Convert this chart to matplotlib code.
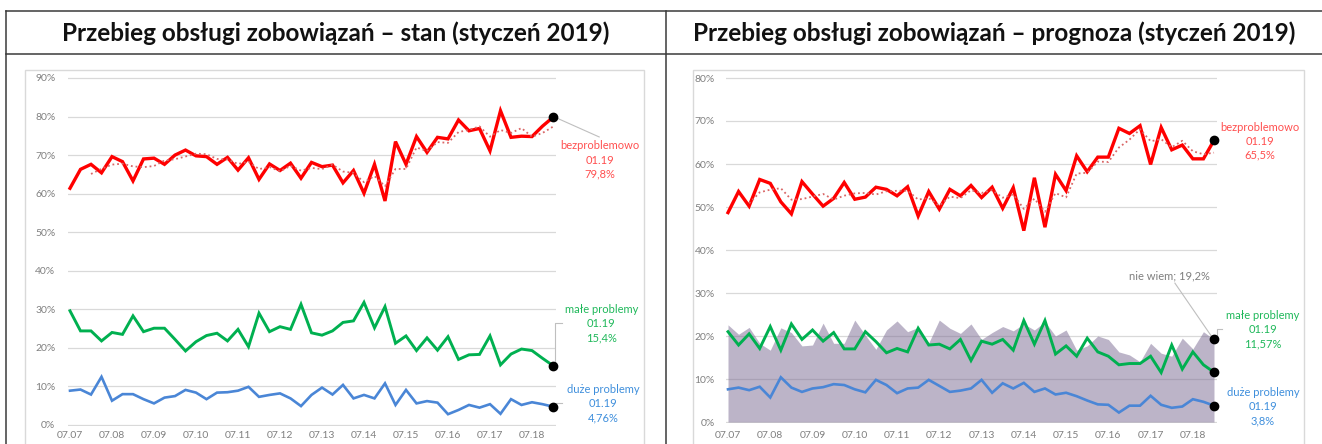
import numpy as np
import pandas as pd
import matplotlib
matplotlib.use("Agg")
import matplotlib.pyplot as plt
from matplotlib.lines import Line2D
from matplotlib.patches import Rectangle

plt.rcParams['font.family'] = ['Lato', 'DejaVu Sans']

# quarterly observations 07.2007 - 01.2019
quarters = pd.date_range('2007-07-01', '2019-01-01', freq='QS-JAN')

# stan (status)
stan_bez = [61.4, 66.3, 67.6, 65.4, 69.6, 68.3, 63.3, 69.0, 69.2, 67.6,
            70.0, 71.3, 69.8, 69.6, 67.6, 69.4, 66.1, 69.3, 63.7, 67.7,
            66.0, 67.9, 64.0, 68.1, 67.0, 67.4, 62.8,
            66.0, 60.1, 67.6, 58.1, 73.5, 67.6, 74.8, 70.7, 74.6, 74.2,
            79.1, 76.3, 76.9, 71.1, 81.5, 74.6, 74.9, 74.8, 77.5, 79.8]
stan_male = [29.6, 24.4, 24.4, 21.8, 24.0, 23.5, 28.3, 24.2, 25.1, 25.1,
             22.2, 19.2, 21.6, 23.2, 23.8, 21.8, 24.8, 20.3, 29.0, 24.2,
             25.5, 24.8, 31.3, 23.9, 23.3, 24.4, 26.6,
             27.0, 31.8, 25.2, 30.7, 21.2, 23.1, 19.3, 22.6, 19.4, 22.9,
             17.0, 18.2, 18.3, 23.1, 15.6, 18.4, 19.7, 19.3, 17.3, 15.4]
stan_duze = [8.9, 9.2, 7.9, 12.5, 6.3, 8.0, 8.0, 6.7, 5.6, 7.1,
             7.5, 9.1, 8.4, 6.7, 8.4, 8.5, 8.9, 9.9, 7.3, 7.8,
             8.2, 6.9, 4.9, 7.8, 9.7, 7.9, 10.4,
             6.9, 7.8, 6.9, 10.8, 5.2, 9.1, 5.6, 6.2, 5.8, 2.8,
             3.9, 5.2, 4.5, 5.4, 2.9, 6.7, 5.2, 5.9, 5.4, 4.76]

# prognoza (forecast)
prog_bez = [48.7, 53.6, 50.2, 56.4, 55.5, 51.2, 48.4, 55.9, 53.0, 50.2,
            52.0, 55.7, 51.8, 52.3, 54.6, 54.1, 52.6, 54.7, 47.9, 53.6,
            49.5, 54.1, 52.6, 55.0, 52.2, 54.6, 49.7,
            54.5, 44.5, 56.8, 45.3, 57.6, 53.8, 61.9, 58.2, 61.6, 61.6,
            68.3, 67.1, 68.9, 59.9, 68.5, 63.3, 64.4, 61.2, 61.2, 65.5]
prog_male = [21.0, 17.9, 20.5, 17.1, 22.2, 16.7, 22.8, 19.2, 21.4, 18.8,
             20.8, 17.0, 17.0, 21.0, 18.7, 16.1, 17.1, 16.3, 21.8, 17.9,
             18.1, 17.0, 19.2, 14.3, 18.8, 18.1, 19.2,
             16.7, 23.6, 18.1, 23.6, 15.8, 17.7, 15.3, 19.5, 16.3, 15.3,
             13.3, 13.6, 13.6, 15.3, 11.5, 17.9, 12.3, 16.3, 13.3, 11.57]
prog_duze = [7.6, 8.0, 7.4, 8.2, 5.7, 10.4, 8.0, 7.0, 7.8, 8.1,
             8.8, 8.6, 7.6, 6.9, 9.8, 8.6, 6.7, 7.8, 8.0, 9.8,
             8.4, 7.0, 7.3, 7.8, 9.8, 6.8, 9.0,
             7.8, 9.1, 7.0, 7.8, 6.4, 6.8, 6.0, 5.0, 4.1, 4.0,
             2.2, 3.8, 3.8, 6.1, 4.0, 3.3, 3.6, 5.3, 4.7, 3.8]
prog_niewiem = [22.6, 20.4, 22.0, 18.3, 16.7, 21.9, 20.8, 17.7, 17.9, 23.0,
                18.3, 18.3, 23.7, 20.2, 16.9, 21.4, 23.5, 21.0, 22.0, 18.4,
                23.7, 21.8, 20.6, 22.8, 19.2, 20.8, 22.2,
                21.2, 22.8, 21.4, 23.3, 20.0, 21.4, 16.7, 17.7, 20.0, 19.2,
                16.3, 15.6, 14.0, 18.3, 16.0, 15.3, 19.5, 17.0, 21.0, 19.2]

titles = ['Przebieg obsługi zobowiązań – stan (styczeń 2019)',
          'Przebieg obsługi zobowiązań – prognoza (styczeń 2019)']

RED = '#ff0000'
GREEN = '#00b050'
BLUE = '#4a86d6'
RED_TXT = '#ff4f4f'
GREEN_TXT = '#1fb85a'
BLUE_TXT = '#3f8fdc'
GRID = '#d9d9d9'
TICK = '#808080'

W, H = 1322, 444
fig = plt.figure(figsize=(W / 100, H / 100), dpi=100)


def px_axes(zero_px, px_per_unit, ymin, ymax, xstep, first_px):
    # axes placed so that data -> pixel mapping is exact
    xl, xr = -0.2, 46.3
    left = first_px + xl * xstep
    right = first_px + xr * xstep
    top = zero_px - ymax * px_per_unit
    bottom = zero_px - ymin * px_per_unit
    ax = fig.add_axes([left / W, 1 - bottom / H, (right - left) / W, (bottom - top) / H])
    ax.set_xlim(xl, xr)
    ax.set_ylim(ymin, ymax)
    return ax


def fig_line(xs, ys, **kw):
    fig.add_artist(Line2D([x / W for x in xs], [1 - y / H for y in ys],
                          transform=fig.transFigure, **kw))


# table frame
tbl = dict(color='#3a3a3a', lw=1.1)
fig_line([6, W + 5], [11, 11], **tbl)
fig_line([6, W + 5], [54, 54], **tbl)
fig_line([6, 6], [11, H + 5], **tbl)
fig_line([666, 666], [11, H + 5], **tbl)
fig.text(336 / W, 1 - 33 / H, titles[0], ha='center', va='center',
         fontsize=17.5, fontweight='bold', color='#111111')
fig.text(994 / W, 1 - 33 / H, titles[1], ha='center', va='center',
         fontsize=17.5, fontweight='bold', color='#111111')

# chart frames
for x0, x1 in [(25, 644), (693, 1304)]:
    fig.add_artist(Rectangle((x0 / W, -0.1), (x1 - x0) / W, 1 - 70 / H + 0.1,
                             transform=fig.transFigure, fill=False,
                             ec=GRID, lw=1.0))

x = np.arange(len(quarters))
tick_pos = [i for i, d in enumerate(quarters) if d.month == 7]
tick_lab = [quarters[i].strftime('%m.%y') for i in tick_pos]


def style(ax, ymax, ypad, xpad):
    ax.set_yticks(np.arange(0, ymax + 1, 10))
    ax.set_yticklabels([f'{v}%' for v in range(0, ymax + 1, 10)])
    ax.set_xticks(tick_pos)
    ax.set_xticklabels(tick_lab)
    ax.tick_params(axis='y', length=0, pad=ypad, labelsize=7.5, labelcolor=TICK)
    ax.tick_params(axis='x', length=0, pad=xpad, labelsize=7.5, labelcolor=TICK)
    ax.yaxis.grid(True, color=GRID, lw=0.9)
    ax.set_axisbelow(True)
    for s in ax.spines.values():
        s.set_visible(False)
    ax.patch.set_alpha(0)


def series(ax, vals, color, lw):
    ax.plot(x, vals, color=color, lw=lw, solid_joinstyle='miter', zorder=3,
            clip_on=False)
    ax.plot(x[-1], vals[-1], 'o', color='black', ms=6, zorder=5, clip_on=False)


def trend(ax, vals):
    ma = pd.Series(vals).rolling(3).mean()
    ax.plot(x, ma, color='#d96666', lw=1.3, ls=(0, (1, 1.6)), zorder=4)


def block(ax, xd, yd, name, val, color):
    ax.text(xd, yd, f'{name}\n01.19\n{val}', ha='center', va='center',
            fontsize=8, color=color, linespacing=1.35, clip_on=False)


lead = dict(color='#bfbfbf', lw=0.8, clip_on=False, zorder=2)

# ---- left: stan
axL = px_axes(425, 3.856, -0.3, 90.3, 10.5, 70)
style(axL, 90, 9, 3.5)
series(axL, stan_bez, RED, 2.4)
trend(axL, stan_bez)
series(axL, stan_male, GREEN, 2.1)
series(axL, stan_duze, BLUE, 1.9)

axL.plot([46.2, 50.4], [79.8, 74.7], **lead)
block(axL, 50.5, 68.7, 'bezproblemowo', '79,8%', RED_TXT)
axL.plot([46.2, 46.2, 46.9], [15.4, 26.5, 26.5], **lead)
block(axL, 50.6, 26.2, 'małe problemy', '15,4%', GREEN_TXT)
axL.plot([46.0, 46.9], [5.7, 5.7], **lead)
block(axL, 50.8, 5.45, 'duże problemy', '4,76%', BLUE_TXT)

# ---- right: prognoza
axR = px_axes(422, 4.3, -0.3, 80.3, 10.565, 728)
style(axR, 80, 8, 5.5)
axR.fill_between(x, 0, prog_niewiem, color='#7a6a92', alpha=0.5, lw=0, zorder=1)
axR.plot(x[-1], prog_niewiem[-1], 'o', color='black', ms=6, zorder=5, clip_on=False)
series(axR, prog_bez, RED, 2.4)
trend(axR, prog_bez)
series(axR, prog_male, GREEN, 2.1)
series(axR, prog_duze, BLUE, 1.9)

axR.plot([42.3, 45.8], [32.3, 19.8], **lead)
axR.text(41.8, 33.95, 'nie wiem; 19,2%', ha='center', va='center',
         fontsize=8, color='#7f7f7f')
block(axR, 50.35, 65.3, 'bezproblemowo', '65,5%', RED_TXT)
axR.plot([46.25, 46.25, 46.8], [19.2, 21.6, 21.6], **lead)
block(axR, 50.65, 21.4, 'małe problemy', '11,57%', GREEN_TXT)
block(axR, 50.65, 3.56, 'duże problemy', '3,8%', BLUE_TXT)

fig.savefig('out.png', dpi=100)
